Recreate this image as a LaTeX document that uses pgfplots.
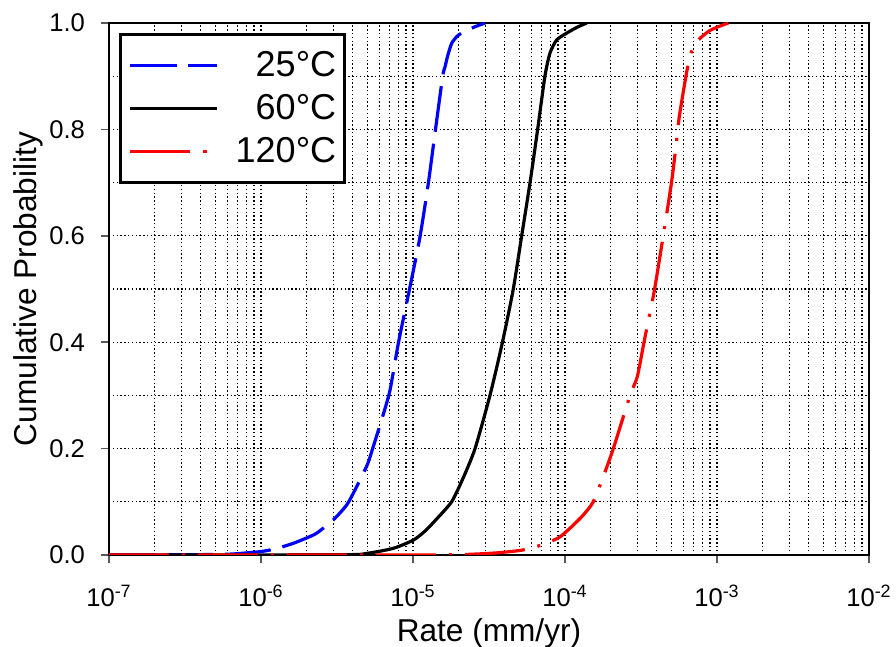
\documentclass[border=0pt]{standalone}
\usepackage{fontspec}
\setmainfont{Liberation Sans}
\usepackage{pgfplots}
\pgfplotsset{compat=1.18}
\begin{document}
\begin{tikzpicture}
\useasboundingbox (-54.5pt,-46pt) rectangle (393.5pt,277.5pt);
\begin{axis}[
  scale only axis,
  width=380pt, height=266pt,
  xmode=log,
  xmin=1e-7, xmax=1e-2,
  ymin=0, ymax=1,
  xtick={1e-7,1e-6,1e-5,1e-4,1e-3,1e-2},
  xticklabels={10\textsuperscript{-7},10\textsuperscript{-6},10\textsuperscript{-5},10\textsuperscript{-4},10\textsuperscript{-3},10\textsuperscript{-2}},
  ytick={0,0.2,0.4,0.6,0.8,1.0},
  minor ytick={0.1,0.3,0.5,0.7,0.9},
  yticklabel style={/pgf/number format/fixed,/pgf/number format/fixed zerofill,/pgf/number format/precision=1,/pgf/number format/assume math mode=true},
  yticklabel shift=4.5pt,
  xticklabel shift=7.5pt,
  xmajorgrids, xminorgrids, ymajorgrids, yminorgrids,
  grid style={black, line width=0.6pt, dash pattern=on 0.7pt off 1.2pt},
  minor grid style={black, line width=0.6pt, dash pattern=on 0.7pt off 1.2pt},
  tick align=outside,
  xtick pos=bottom, ytick pos=left,
  major tick length=4pt, minor tick length=0pt,
  tick style={gray!70!black, line width=0.8pt},
  axis line style={black, line width=0.6pt},
  ticklabel style={font=\fontsize{12.8}{14}\selectfont},
  xlabel={Rate (mm/yr)},
  ylabel={Cumulative Probability},
  label style={font=\fontsize{15.8}{18}\selectfont},
  xlabel style={at={(rel axis cs:0.5,0)}, anchor=base, yshift=-43.5pt},
  ylabel style={at={(rel axis cs:0,0.5)}, anchor=base, rotate=0, yshift=36.2pt},
  legend cell align=right,
  legend style={at={(rel axis cs:0.0132,0.9812)}, anchor=north west,
    draw=black, line width=1.5pt, fill=white,
    font=\fontsize{18}{21}\selectfont,
    inner xsep=4pt, inner ysep=8.3pt, row sep=7.5pt, column sep=8.5pt,
    nodes={inner sep=0pt}},
  legend image code/.code={\draw plot coordinates {(0pt,0pt) (21.75pt,0pt) (43.5pt,0pt)};},
]
\addplot[blue, line width=1.6pt, smooth, tension=0.4, dash pattern=on 23pt off 6pt] coordinates {
(1e-7,0) (3.16e-7,0.0005) (5.01e-7,0.001) (6.61e-7,0.002) (1e-6,0.0065) (1.259e-6,0.012) (1.633e-6,0.022) (1.995e-6,0.032) (2.323e-6,0.041) (2.992e-6,0.066) (3.664e-6,0.094) (4.150e-6,0.122) (5.012e-6,0.17) (5.483e-6,0.204) (6.310e-6,0.26) (7.063e-6,0.31) (8.035e-6,0.40) (9.462e-6,0.498) (1.112e-5,0.598) (1.262e-5,0.699) (1.396e-5,0.793) (1.567e-5,0.899) (1.626e-5,0.918) (1.698e-5,0.94) (1.799e-5,0.962) (1.950e-5,0.975) (2.089e-5,0.981) (2.512e-5,0.992) (2.979e-5,1.0)
};
\addlegendentry{25°C}
\addplot[black, line width=1.6pt, smooth, tension=0.4] coordinates {
(1e-7,0) (3.31e-6,0.0005) (4.95e-6,0.003) (7.41e-6,0.0125) (1.005e-5,0.028) (1.2e-5,0.045) (1.413e-5,0.066) (1.795e-5,0.1) (2.14e-5,0.145) (2.56e-5,0.2) (3.21e-5,0.3) (3.88e-5,0.4) (4.57e-5,0.5) (5.19e-5,0.6) (5.89e-5,0.7) (6.61e-5,0.8) (7.38e-5,0.9) (7.96e-5,0.943) (8.81e-5,0.968) (1.026e-4,0.981) (1.202e-4,0.992) (1.39e-4,1.0)
};
\addlegendentry{60°C}
\addplot[red, line width=1.6pt, smooth, tension=0.4, dash pattern=on 30pt off 6.5pt on 1.5pt off 6.5pt] coordinates {
(1e-7,0) (1e-5,0) (2.2e-5,0.001) (3.55e-5,0.004) (5.19e-5,0.009) (6.52e-5,0.016) (7.96e-5,0.025) (9.27e-5,0.034) (1.104e-4,0.053) (1.318e-4,0.075) (1.535e-4,0.1) (1.8e-4,0.15) (2.08e-4,0.2) (2.68e-4,0.3) (2.99e-4,0.335) (3.31e-4,0.4) (3.58e-4,0.448) (3.89e-4,0.5) (4.43e-4,0.6) (5.02e-4,0.7) (5.40e-4,0.774) (5.65e-4,0.824) (6.25e-4,0.9) (6.64e-4,0.937) (7.24e-4,0.963) (8.77e-4,0.984) (1.0e-3,0.992) (1.186e-3,1.0)
};
\addlegendentry{120°C}
\end{axis}
\end{tikzpicture}
\end{document}
